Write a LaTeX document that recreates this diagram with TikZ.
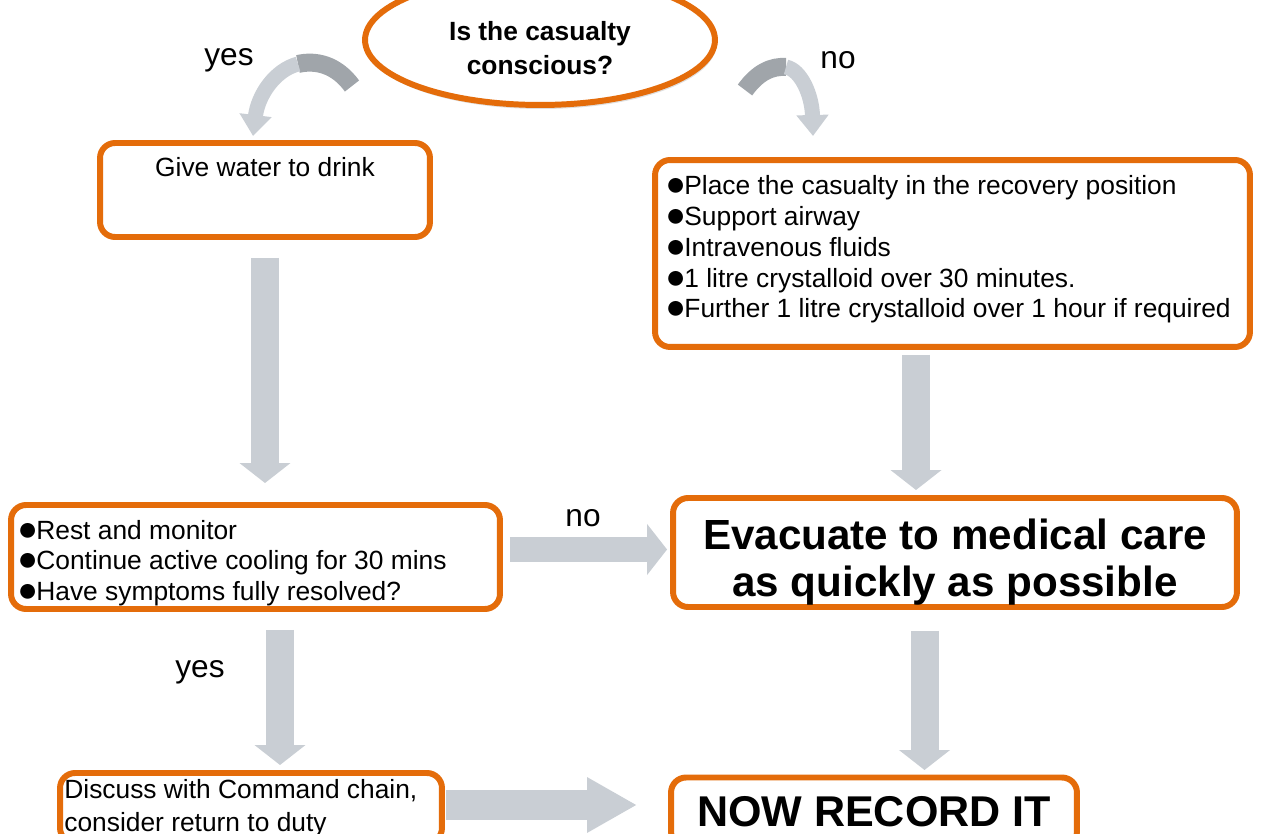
\documentclass[tikz,border=0pt]{standalone}
\usepackage{fontspec}
\setmainfont{Liberation Sans}
\usetikzlibrary{arrows.meta,shapes.geometric,shadows}
\definecolor{orangeline}{HTML}{E46C0A}
\definecolor{arrowgray}{HTML}{C9CED4}
\definecolor{arrowdark}{HTML}{A0A5AA}
\newcommand{\blt}{\makebox[0.72em][l]{\raisebox{-0.6pt}{\fontsize{19.5}{17}\selectfont ●}}}
\tikzset{
  every picture/.style={line join=round, line cap=round, >=Stealth},
  stepbox/.style={draw=orangeline, line width=3.4pt, rounded corners=0.3cm, fill=white, inner sep=0pt},
  question/.style={ellipse, draw=orangeline, line width=3.4pt, fill=white, inner sep=0pt,
    drop shadow={shadow xshift=0.03cm, shadow yshift=-0.08cm, opacity=0.25}},
  asktext/.style={align=center, font=\bfseries\fontsize{15}{19}\selectfont},
  bodytext/.style={font=\fontsize{15}{17.5}\selectfont, align=left, inner sep=0pt},
  bigtext/.style={font=\bfseries\fontsize{24}{26.7}\selectfont, align=center},
  answer/.style={font=\fontsize{18}{20}\selectfont},
  flow/.style={draw=arrowgray, line width=0.56cm, line cap=butt, -{Triangle[width=1cm, length=0.4cm]}},
  longflow/.style={draw=arrowgray, line width=0.6cm, line cap=butt, -{Triangle[width=1.04cm, length=1cm]}},
  bendarrow/.style={line width=0.3cm, line cap=butt},
}

\begin{document}
\begin{tikzpicture}[x=0.02cm,y=-0.02cm]
\clip (0,0) rectangle (1265,834);
\useasboundingbox (0,0) rectangle (1265,834);

% question at the top
\node[question, minimum width=7cm, minimum height=2.6cm] (ask) at (540,40) {};
\node[asktext] (asktxt) at (540,48) {Is the casualty\\conscious?};
\node[answer] (yesup) at (229,60) {yes};
\node[answer] (noup) at (838,60) {no};

% curved arrows out of the question
\coordinate (yesstart) at (352,86);
\coordinate (yesbend) at (298,64);
\coordinate (yesend) at (253,136);
\coordinate (nostart) at (745,90);
\coordinate (nobend) at (786,67);
\coordinate (noend) at (813,136);
\draw[bendarrow, draw=arrowdark, line width=0.36cm] (yesstart) .. controls (336,64) and (315,60) .. (yesbend);
\draw[bendarrow, draw=arrowgray, -{Triangle[width=0.62cm, length=0.42cm]}] (yesbend) .. controls (275,70) and (258,95) .. (yesend);
\draw[bendarrow, draw=arrowdark, line width=0.36cm] (nostart) .. controls (758,72) and (772,66) .. (nobend);
\draw[bendarrow, draw=arrowgray, -{Triangle[width=0.62cm, length=0.42cm]}] (nobend) .. controls (801,70) and (812,95) .. (noend);

% boxes
\node[stepbox, minimum width=6.6cm, minimum height=1.88cm] (water) at (265,190) {};
\node[bodytext, anchor=center] (watertxt) at (265,167) {Give water to drink};

\node[stepbox, minimum width=11.9cm, minimum height=3.74cm] (recover) at (952.5,253.5) {};
\node[bodytext, anchor=west, xshift=0.26cm, yshift=0.08cm] (recovertxt) at (recover.west)
  {\blt Place the casualty in the recovery position\\
   \blt Support airway\\
   \blt Intravenous fluids\\
   \blt 1 litre crystalloid over 30 minutes.\\
   \blt Further 1 litre crystalloid over 1 hour if required};

\node[stepbox, minimum width=9.78cm, minimum height=2.08cm] (rest) at (255.5,557) {};
\node[bodytext, anchor=west, xshift=0.18cm, yshift=-0.12cm] (resttxt) at (rest.west)
  {\blt Rest and monitor\\
   \blt Continue active cooling for 30 mins\\
   \blt Have symptoms fully resolved?};

\node[stepbox, minimum width=11.28cm, minimum height=2.18cm] (evac) at (955,552.5) {};
\node[bigtext] (evactxt) at (955,562.5) {Evacuate to medical care\\as quickly as possible};

\node[stepbox, minimum width=7.64cm, minimum height=1.4cm] (duty) at (251,808) {};
\node[bodytext, font=\fontsize{15}{18.8}\selectfont, anchor=west, xshift=0.14cm, yshift=0cm] (dutytxt) at (duty.west)
  {Discuss with Command chain,\\consider return to duty};

\node[stepbox, font=\bfseries\fontsize{24.5}{28}\selectfont, minimum width=8.12cm, minimum height=1.38cm] (record) at (874,812) {NOW RECORD IT};

% block arrows
\draw[flow, shorten <=0.36cm, shorten >=0.38cm] (water.south) -- (water.south |- rest.north);
\draw[flow, shorten <=0.1cm, shorten >=0.1cm] ([xshift=-0.73cm]recover.south) -- ([xshift=-0.73cm]recover.south |- evac.north);
\draw[flow, shorten <=0.36cm, shorten >=0.1cm] ([xshift=0.49cm]rest.south) -- ([xshift=0.49cm]rest.south |- duty.north);
\draw[flow, shorten <=0.42cm, shorten >=0.09cm] ([xshift=-0.61cm]evac.south) -- ([xshift=-0.61cm]evac.south |- record.north);
\draw[flow, line width=0.5cm, shorten <=0.14cm, shorten >=0.06cm] ([yshift=0.15cm]rest.east) -- ([yshift=0.15cm]rest.east -| evac.west);
\draw[longflow, shorten <=0.02cm, shorten >=0.62cm] ([yshift=0.06cm]duty.east) -- ([yshift=0.06cm]duty.east -| record.west);

\node[answer] (nomid) at (583,518) {no};
\node[answer] (yeslow) at (200,672) {yes};
\end{tikzpicture}
\end{document}
